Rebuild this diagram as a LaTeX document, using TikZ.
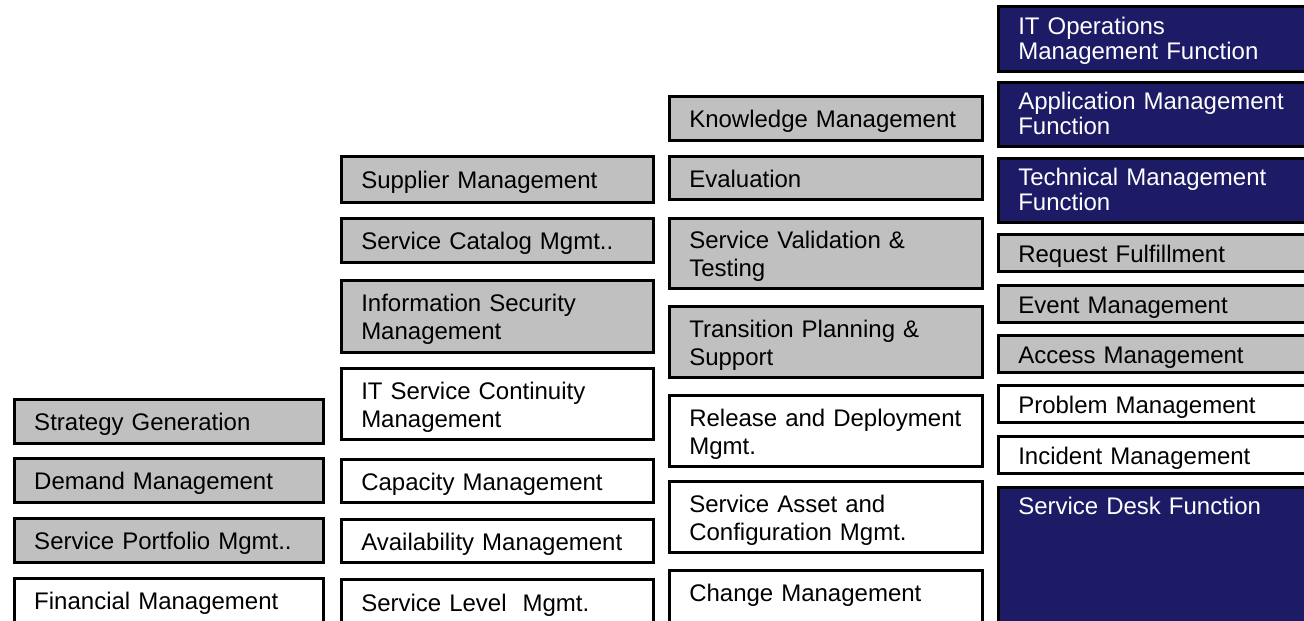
\documentclass[tikz,border=0pt]{standalone}
\usepackage{fontspec}
\setmainfont{Liberation Sans}
\definecolor{boxgray}{RGB}{192,192,192}
\definecolor{boxnavy}{RGB}{30,27,102}
\begin{document}
\begin{tikzpicture}[x=1pt,y=-1pt,
  box/.style={draw=black, line width=2.5pt, anchor=north west, inner xsep=20pt, inner ysep=0pt,
    align=left, font=\fontsize{24}{28}\selectfont, text height=19pt, text depth=0pt},
  twoline/.style={text depth=28pt},
  cutbox/.style={text depth=120pt},
  wb/.style={box, fill=white, text=black},
  gb/.style={box, fill=boxgray, text=black},
  nb/.style={box, fill=boxnavy, text=white},
  colA/.style={text width=269pt},
  colB/.style={text width=272pt},
  colC/.style={text width=273pt},
  colD/.style={text width=300pt, font=\fontsize{24}{25}\selectfont},
]
\useasboundingbox (0,0) rectangle (1304,621);
\clip (0,0) rectangle (1304,621);

% Column 1
\node[gb,colA,minimum height=44pt] (sg)  at (13,398) {Strategy Generation};
\node[gb,colA,minimum height=44pt] (dm)  at (13,457) {Demand Management};
\node[gb,colA,minimum height=44pt] (spm) at (13,517) {Service Portfolio Mgmt..};
\node[wb,colA,cutbox,text height=31pt] (fm) at (13,577) {Financial Management};

% Column 2
\node[gb,colB,minimum height=46pt] (sup)   at (340,155) {Supplier Management};
\node[gb,colB,minimum height=44pt] (scm)   at (340,217) {Service Catalog Mgmt..};
\node[gb,colB,twoline,minimum height=72pt] (ism)  at (340,279) {Information Security\\Management};
\node[wb,colB,twoline,minimum height=71pt] (itsc) at (340,367) {IT Service Continuity\\Management};
\node[wb,colB,minimum height=43pt] (cap)   at (340,458) {Capacity Management};
\node[wb,colB,minimum height=43pt] (avail) at (340,518) {Availability Management};
\node[wb,colB,cutbox,text height=32pt] (slm) at (340,578) {Service Level\ \ Mgmt.};

% Column 3
\node[gb,colC,minimum height=44pt] (km)  at (668,95)  {Knowledge Management};
\node[gb,colC,minimum height=43pt] (ev)  at (668,155) {Evaluation};
\node[gb,colC,twoline,minimum height=70pt] (svt)  at (668,217) {Service Validation \&\\Testing};
\node[gb,colC,twoline,minimum height=71pt] (tps)  at (668,305) {Transition Planning \&\\Support};
\node[wb,colC,twoline,minimum height=71pt] (rdm)  at (668,394) {Release and Deployment\\Mgmt.};
\node[wb,colC,twoline,minimum height=71pt] (sacm) at (668,480) {Service Asset and\\Configuration Mgmt.};
\node[wb,colC,cutbox,text height=31pt] (chg) at (668,569) {Change Management};

% Column 4
\node[nb,colD,twoline,minimum height=65pt] (itops) at (997,5)   {IT Operations\\Management Function};
\node[nb,colD,twoline,minimum height=64pt] (app)   at (997,81)  {Application Management\\Function};
\node[nb,colD,twoline,minimum height=64pt] (tech)  at (997,157) {Technical Management\\Function};
\node[gb,colD,minimum height=37pt] (req)  at (997,233) {Request Fulfillment};
\node[gb,colD,minimum height=37pt] (evm)  at (997,284) {Event Management};
\node[gb,colD,minimum height=37pt] (acc)  at (997,334) {Access Management};
\node[wb,colD,minimum height=37pt] (prob) at (997,384) {Problem Management};
\node[wb,colD,minimum height=37pt] (inc)  at (997,435) {Incident Management};
\node[nb,colD,cutbox,text height=27pt] (sd) at (997,486) {Service Desk Function};
\end{tikzpicture}
\end{document}
